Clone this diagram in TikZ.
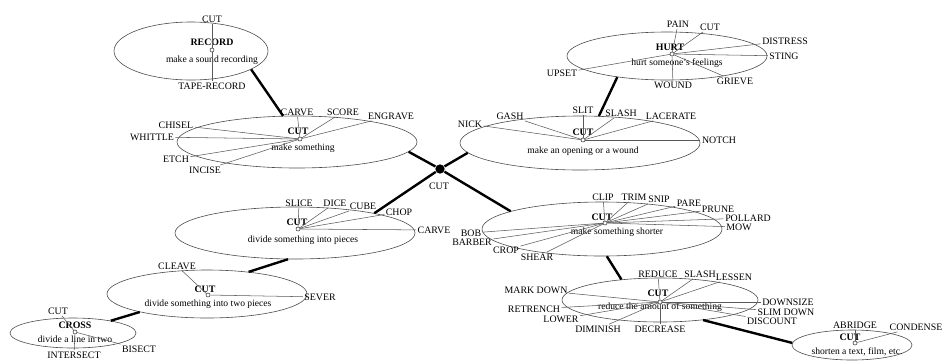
\documentclass[tikz,border=0pt]{standalone}
\usepackage{fontspec}
\setmainfont{Liberation Serif}
\usetikzlibrary{shapes.geometric}

\tikzset{every picture/.style={line width=0.75pt}}

\begin{document}
\begin{tikzpicture}[x=0.75pt,y=0.75pt,yscale=-1,xscale=1,
	sense/.style={ellipse,draw=black!70,line width=0.45pt,inner sep=0pt},
	dot/.style={circle,draw=black!80,line width=0.4pt,inner sep=0pt,minimum size=3pt},
	hub/.style={circle,fill=black,inner sep=0pt,minimum size=7pt},
	lbl/.style={inner sep=0.8pt,font=\fontsize{7.4}{8}\selectfont},
	head/.style={inner sep=0pt,font=\fontsize{7.4}{8}\selectfont\bfseries},
	gloss/.style={inner sep=0pt,font=\fontsize{7.2}{8}\selectfont},
	spoke/.style={draw=black!65,line width=0.4pt},
	link/.style={line width=1.8pt}]
	\useasboundingbox (0,0) rectangle (945,362);

	%Shape: Ellipse [RECORD]
	\node [sense,minimum width=115.5pt,minimum height=43.5pt] (rec) at (191,51) {};
	\node [dot] (recO) at (212,50) {};
	% Text Node
	\node [head] (recHd) at (212,42) {RECORD};
	% Text Node
	\node [gloss] (recGl) at (212,60) {make a sound recording};
	% Text Node
	\node [lbl] (recCut) at (212,19) {CUT};
	% Text Node
	\node [lbl] (recTape) at (212,86) {TAPE-RECORD};
	\draw [spoke] (recO) -- (recCut);
	\draw [spoke] (recO) -- (recTape);

	%Shape: Ellipse [make something]
	\node [sense,minimum width=180pt,minimum height=39pt] (make) at (297,142) {};
	\node [dot] (makeO) at (300,139) {};
	% Text Node
	\node [head] (makeHd) at (298,131) {CUT};
	% Text Node
	\node [gloss] (makeGl) at (303,148) {make something};
	% Text Node
	\node [lbl] (makeCarve) at (297,112) {CARVE};
	% Text Node
	\node [lbl] (makeScore) at (343,112) {SCORE};
	% Text Node
	\node [lbl] (makeEngrave) at (391,116) {ENGRAVE};
	% Text Node
	\node [lbl] (makeChisel) at (176,125) {CHISEL};
	% Text Node
	\node [lbl] (makeWhittle) at (152,137) {WHITTLE};
	% Text Node
	\node [lbl] (makeEtch) at (176,159) {ETCH};
	% Text Node
	\node [lbl] (makeIncise) at (205,170) {INCISE};
	\draw [spoke] (makeO) -- (makeCarve);
	\draw [spoke] (makeO) -- (makeScore);
	\draw [spoke] (makeO) -- (makeEngrave);
	\draw [spoke] (makeO) -- (makeChisel);
	\draw [spoke] (makeO) -- (makeWhittle);
	\draw [spoke] (makeO) -- (makeEtch);
	\draw [spoke] (makeO) -- (makeIncise);

	%Shape: Ellipse [opening or wound]
	\node [sense,minimum width=180pt,minimum height=40.5pt] (open) at (580,143) {};
	\node [dot] (openO) at (583,140) {};
	% Text Node
	\node [head] (openHd) at (583,132) {CUT};
	% Text Node
	\node [gloss] (openGl) at (583,151) {make an opening or a wound};
	% Text Node
	\node [lbl] (openSlit) at (583,110) {SLIT};
	% Text Node
	\node [lbl] (openSlash) at (621,113) {SLASH};
	% Text Node
	\node [lbl] (openLacerate) at (671,116) {LACERATE};
	% Text Node
	\node [lbl] (openGash) at (510,116) {GASH};
	% Text Node
	\node [lbl] (openNick) at (470,124) {NICK};
	% Text Node
	\node [lbl] (openNotch) at (719,140) {NOTCH};
	\draw [spoke] (openO) -- (openSlit);
	\draw [spoke] (openO) -- (openSlash);
	\draw [spoke] (openO) -- (openLacerate);
	\draw [spoke] (openO) -- (openGash);
	\draw [spoke] (openO) -- (openNick);
	\draw [spoke] (openO) -- (openNotch);

	%Shape: Ellipse [HURT]
	\node [sense,minimum width=150pt,minimum height=36pt] (hurt) at (667,56) {};
	\node [dot] (hurtO) at (672,54) {};
	% Text Node
	\node [head] (hurtHd) at (670,47) {HURT};
	% Text Node
	\node [gloss] (hurtGl) at (677,63) {hurt someone's feelings};
	% Text Node
	\node [lbl] (hurtPain) at (678,24) {PAIN};
	% Text Node
	\node [lbl] (hurtCut) at (710,27) {CUT};
	% Text Node
	\node [lbl] (hurtDistress) at (785,41) {DISTRESS};
	% Text Node
	\node [lbl] (hurtSting) at (784,56) {STING};
	% Text Node
	\node [lbl] (hurtUpset) at (562,73) {UPSET};
	% Text Node
	\node [lbl] (hurtWound) at (673,85) {WOUND};
	% Text Node
	\node [lbl] (hurtGrieve) at (735,81) {GRIEVE};
	\draw [spoke] (hurtO) -- (hurtPain);
	\draw [spoke] (hurtO) -- (hurtCut);
	\draw [spoke] (hurtO) -- (hurtDistress);
	\draw [spoke] (hurtO) -- (hurtSting);
	\draw [spoke] (hurtO) -- (hurtUpset);
	\draw [spoke] (hurtO) -- (hurtWound);
	\draw [spoke] (hurtO) -- (hurtGrieve);

	%Shape: Ellipse [pieces]
	\node [sense,minimum width=180pt,minimum height=39pt] (pieces) at (295,233) {};
	\node [dot] (piecesO) at (298,229) {};
	% Text Node
	\node [head] (piecesHd) at (297,222) {CUT};
	% Text Node
	\node [gloss] (piecesGl) at (303,240) {divide something into pieces};
	% Text Node
	\node [lbl] (piecesSlice) at (299,203) {SLICE};
	% Text Node
	\node [lbl] (piecesDice) at (335,203) {DICE};
	% Text Node
	\node [lbl] (piecesCube) at (363,206) {CUBE};
	% Text Node
	\node [lbl] (piecesChop) at (399,212) {CHOP};
	% Text Node
	\node [lbl] (piecesCarve) at (434,230) {CARVE};
	\draw [spoke] (piecesO) -- (piecesSlice);
	\draw [spoke] (piecesO) -- (piecesDice);
	\draw [spoke] (piecesO) -- (piecesCube);
	\draw [spoke] (piecesO) -- (piecesChop);
	\draw [spoke] (piecesO) -- (piecesCarve);

	%Shape: Ellipse [shorter]
	\node [sense,minimum width=180pt,minimum height=40.5pt] (short) at (602,229) {};
	\node [dot] (shortO) at (605,223) {};
	% Text Node
	\node [head] (shortHd) at (602,217) {CUT};
	% Text Node
	\node [gloss] (shortGl) at (617,232) {make something shorter};
	% Text Node
	\node [lbl] (shortClip) at (603,197) {CLIP};
	% Text Node
	\node [lbl] (shortTrim) at (634,197) {TRIM};
	% Text Node
	\node [lbl] (shortSnip) at (659,199) {SNIP};
	% Text Node
	\node [lbl] (shortPare) at (689,203) {PARE};
	% Text Node
	\node [lbl] (shortPrune) at (718,209) {PRUNE};
	% Text Node
	\node [lbl] (shortPollard) at (748,218) {POLLARD};
	% Text Node
	\node [lbl] (shortMow) at (739,227) {MOW};
	% Text Node
	\node [lbl] (shortBob) at (471,233) {BOB};
	% Text Node
	\node [lbl] (shortBarber) at (472,242) {BARBER};
	% Text Node
	\node [lbl] (shortCrop) at (506,250) {CROP};
	% Text Node
	\node [lbl] (shortShear) at (537,257) {SHEAR};
	\draw [spoke] (shortO) -- (shortClip);
	\draw [spoke] (shortO) -- (shortTrim);
	\draw [spoke] (shortO) -- (shortSnip);
	\draw [spoke] (shortO) -- (shortPare);
	\draw [spoke] (shortO) -- (shortPrune);
	\draw [spoke] (shortO) -- (shortPollard);
	\draw [spoke] (shortO) -- (shortMow);
	\draw [spoke] (shortO) -- (shortBob);
	\draw [spoke] (shortO) -- (shortBarber);
	\draw [spoke] (shortO) -- (shortCrop);
	\draw [spoke] (shortO) -- (shortShear);

	%Shape: Ellipse [reduce]
	\node [sense,minimum width=147pt,minimum height=33pt] (reduce) at (660,300) {};
	\node [dot] (reduceO) at (660,302) {};
	% Text Node
	\node [head] (reduceHd) at (658,293) {CUT};
	% Text Node
	\node [gloss] (reduceGl) at (660,307) {reduce the amount of something};
	% Text Node
	\node [lbl] (reduceReduce) at (658,274) {REDUCE};
	% Text Node
	\node [lbl] (reduceSlash) at (700,274) {SLASH};
	% Text Node
	\node [lbl] (reduceLessen) at (734,277) {LESSEN};
	% Text Node
	\node [lbl] (reduceMark) at (536,290) {MARK DOWN};
	% Text Node
	\node [lbl] (reduceRetrench) at (534,309) {RETRENCH};
	% Text Node
	\node [lbl] (reduceLower) at (561,319) {LOWER};
	% Text Node
	\node [lbl] (reduceDiminish) at (598,329) {DIMINISH};
	% Text Node
	\node [lbl] (reduceDecrease) at (660,329) {DECREASE};
	% Text Node
	\node [lbl] (reduceDownsize) at (788,302) {DOWNSIZE};
	% Text Node
	\node [lbl] (reduceSlim) at (786,312) {SLIM DOWN};
	% Text Node
	\node [lbl] (reduceDiscount) at (772,321) {DISCOUNT};
	\draw [spoke] (reduceO) -- (reduceReduce);
	\draw [spoke] (reduceO) -- (reduceSlash);
	\draw [spoke] (reduceO) -- (reduceLessen);
	\draw [spoke] (reduceO) -- (reduceMark);
	\draw [spoke] (reduceO) -- (reduceRetrench);
	\draw [spoke] (reduceO) -- (reduceLower);
	\draw [spoke] (reduceO) -- (reduceDiminish);
	\draw [spoke] (reduceO) -- (reduceDecrease);
	\draw [spoke] (reduceO) -- (reduceDownsize);
	\draw [spoke] (reduceO) -- (reduceSlim);
	\draw [spoke] (reduceO) -- (reduceDiscount);

	%Shape: Ellipse [two pieces]
	\node [sense,minimum width=150pt,minimum height=36pt] (two) at (207,294) {};
	\node [dot] (twoO) at (208,295) {};
	% Text Node
	\node [head] (twoHd) at (205,289) {CUT};
	% Text Node
	\node [gloss] (twoGl) at (208,304) {divide something into two pieces};
	% Text Node
	\node [lbl] (twoCleave) at (177,266) {CLEAVE};
	% Text Node
	\node [lbl] (twoSever) at (320,297) {SEVER};
	\draw [spoke] (twoO) -- (twoCleave);
	\draw [spoke] (twoO) -- (twoSever);

	%Shape: Ellipse [text, film]
	\node [sense,minimum width=90pt,minimum height=22.5pt] (text) at (852,345) {};
	\node [dot] (textO) at (855,343) {};
	% Text Node
	\node [head] (textHd) at (850,337) {CUT};
	% Text Node
	\node [gloss] (textGl) at (857,352) {shorten a text, film, etc.};
	% Text Node
	\node [lbl] (textAbridge) at (855,325) {ABRIDGE};
	% Text Node
	\node [lbl] (textCondense) at (916,327) {CONDENSE};
	\draw [spoke] (textO) -- (textAbridge);
	\draw [spoke] (textO) -- (textCondense);

	%Shape: Ellipse [CROSS]
	\node [sense,minimum width=94.5pt,minimum height=22.5pt] (cross) at (73,333) {};
	\node [dot] (crossO) at (75,332) {};
	% Text Node
	\node [head] (crossHd) at (75,325) {CROSS};
	% Text Node
	\node [gloss] (crossGl) at (75,339) {divide a line in two};
	% Text Node
	\node [lbl] (crossCut) at (58,311) {CUT};
	% Text Node
	\node [lbl] (crossIntersect) at (74,355) {INTERSECT};
	% Text Node
	\node [lbl] (crossBisect) at (139,349) {BISECT};
	\draw [spoke] (crossO) -- (crossCut);
	\draw [spoke] (crossO) -- (crossIntersect);
	\draw [spoke] (crossO) -- (crossBisect);

	% central word and its links
	\node [hub] (cut) at (440,169) {};
	% Text Node
	\node [lbl] (cutLbl) at (439,186) {CUT};
	\draw [link] (cut) -- (make.-5);
	\draw [link] (cut) -- (open.185);
	\draw [link] (cut) -- (pieces.14);
	\draw [link] (cut) -- (short.169);
	\draw [link] (rec.-17) -- (make.118);
	\draw [link] (hurt.203) -- (open.55);
	\draw [link] (short.-80) -- (reduce.152);
	\draw [link] (reduce.-25) -- (text.178);
	\draw [link] (pieces.255) -- (two.28);
	\draw [link] (two.195) -- (cross.18);

\end{tikzpicture}
\end{document}
